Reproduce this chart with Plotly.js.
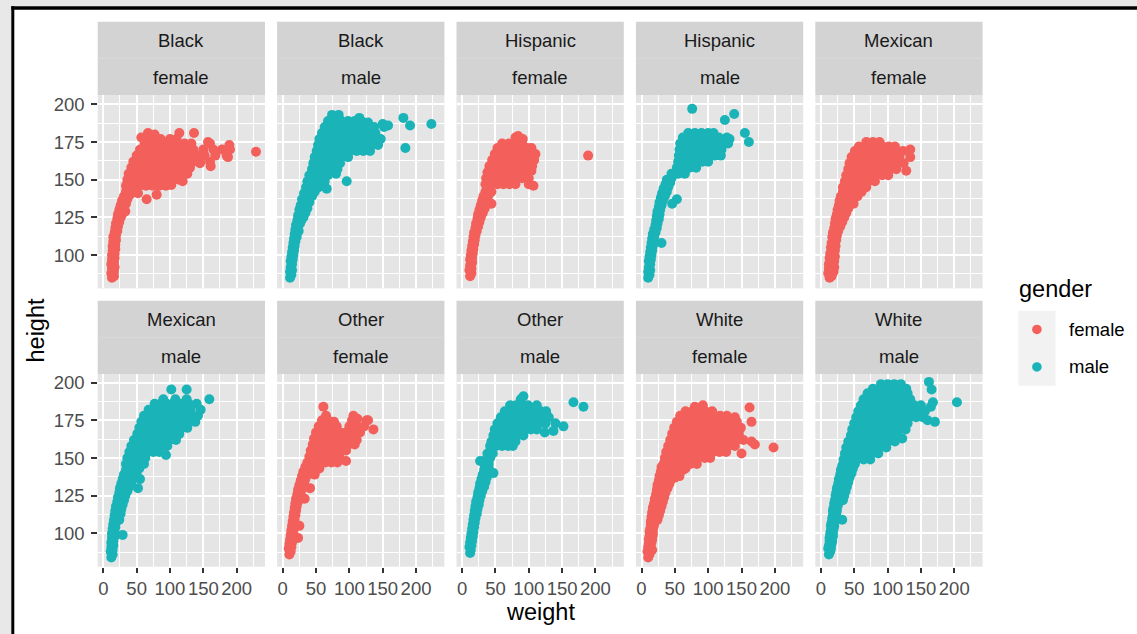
<!DOCTYPE html>
<html>
<head>
<meta charset="utf-8">
<script src="https://cdn.plot.ly/plotly-3.0.1.min.js"></script>
<style>
  html, body { margin: 0; padding: 0; background: #ffffff; }
  #chart { width: 1137px; height: 634px; }
</style>
</head>
<body>
<div id="chart"></div>
<script>
// Height (cm) against weight (kg), one panel per race / gender group.
// Each entry is [weight, height].
const blackFemale = [[13,85],[16,86],[12,88],[16,89],[13,91],[17,92],[12,94],[16,95],[13,97],[17,98],[13,100],[17,101],[14,103],[18,104],[14,106],[18,107],[15,109],[19,110],[15,112],[19,113],[17,115],[21,116],[18,118],[22,119],[19,121],[24,122],[21,124],[26,125],[22,127],[28,127],[33,129],[24,130],[30,131],[26,133],[34,134],[28,136],[36,137],[31,139],[40,140],[34,142],[44,143],[52,141],[65,137],[80,140],
  [34,146],[44,146],[54,146],[64,146],[74,146],[84,146],[94,146],
  [36,150],[46,150],[56,150],[66,150],[76,150],[86,150],[96,150],[106,150],[114,150],
  [38,154],[48,154],[58,154],[68,154],[78,154],[88,154],[98,154],[108,154],[118,154],[126,154],
  [42,158],[52,158],[62,158],[72,158],[82,158],[92,158],[102,158],[112,158],[122,158],[130,158],
  [45,162],[55,162],[65,162],[75,162],[85,162],[95,162],[105,162],[115,162],[125,162],[135,162],[145,162],[160,162],
  [50,166],[60,166],[70,166],[80,166],[90,166],[100,166],[110,166],[120,166],[130,166],[140,166],[152,166],[168,166],[185,166],
  [55,170],[65,170],[75,170],[85,170],[95,170],[105,170],[115,170],[125,170],[135,170],[150,170],[165,170],[178,170],[190,170],
  [62,174],[72,174],[82,174],[92,174],[102,174],[112,174],[122,174],[132,174],[160,174],
  [66,177],[76,177],[86,177],[100,177],[110,177],
  [57,178],[67,181],[77,180],[114,181],[136,181],[157,175],[189,173],[187,165],[229,168.5],[161,159],[145,161],[119,149],[102,146.5]];

const blackMale = [[11,85],[13,87],[11,89],[14,90],[12,92],[14,94],[12,96],[15,97],[13,99],[16,100],[14,102],[17,103],[15,105],[18,106],[16,108],[19,109],[17,111],[21,112],[18,114],[22,115],[24,116],[19,117],[23,118],[20,120],[26,121],[22,123],[28,123],[31,125],[23,126],[29,127],[34,128],[25,130],[31,130],[37,131],[27,133],[34,134],[40,135],[29,137],[36,138],[44,139],[32,141],[40,142],[48,142],[35,145],[44,145],[54,145],[60,146],[66,144],[63,149],[96,149],[80,154],
  [37,149],[46,149],[55,149],
  [40,153],[49,153],[58,153],[68,153],
  [44,157],[53,157],[62,157],[72,157],[82,157],
  [46,161],[56,161],[66,161],[76,161],[86,161],
  [48,165],[58,165],[68,165],[78,165],[88,165],[98,165],
  [51,169],[61,169],[71,169],[81,169],[91,169],[101,169],[111,169],[121,169],[131,169],
  [53,173],[63,173],[73,173],[83,173],[93,173],[103,173],[113,173],[123,173],[133,173],[143,173],
  [55,177],[65,177],[75,177],[85,177],[95,177],[105,177],[115,177],[125,177],[135,177],[147,177],
  [59,181],[69,181],[79,181],[89,181],[99,181],[109,181],[119,181],[129,181],[139,181],
  [63,185],[73,185],[83,185],[93,185],[103,185],[113,185],[123,185],[137,185],[152,185],
  [68,189],[78,189],[88,189],[98,189],[108,189],[118,189],
  [74,193],[84,193],
  [181,191],[191,186],[223,187],[184,171],[158,186],[150,187],[115,191],[128,188]];

const hispanicFemale = [[12,86],[14,88],[11,90],[14,91],[12,93],[15,95],[12,97],[15,98],[13,100],[16,101],[14,103],[17,104],[15,106],[18,107],[16,109],[19,110],[17,112],[20,113],[18,115],[22,116],[20,118],[24,119],[21,121],[26,122],[23,124],[28,125],[24,127],[31,128],[26,130],[34,131],[28,133],[36,134],[44,134],[30,136],[38,137],[32,139],[40,140],[35,142],[44,142],
  [35,147],[44,147],[53,147],[62,147],[71,147],[80,147],[100,147],[107,146],
  [36,151],[45,151],[54,151],[63,151],[72,151],[81,151],[90,151],[100,151],
  [38,155],[47,155],[56,155],[65,155],[74,155],[83,155],[92,155],[104,156],
  [41,159],[50,159],[59,159],[68,159],[77,159],[86,159],[96,159],[105,159],
  [45,163],[54,163],[63,163],[72,163],[81,163],[90,163],[99,163],[108,163],
  [49,167],[58,167],[67,167],[76,167],[85,167],[94,167],[103,167],[110,167],
  [53,171],[62,171],[71,171],[80,171],[89,171],[98,171],[104,171],
  [60,174],[70,174],[80,174],[90,174],
  [80,178],[84,179],[91,177],
  [189,166]];

const hispanicMale = [[10,85],[12,87],[10,89],[13,90],[11,92],[13,94],[11,96],[14,97],[12,99],[15,100],[13,102],[16,103],[14,105],[17,106],[15,108],[18,109],[30,108],[16,111],[19,112],[17,114],[21,115],[19,117],[23,118],[21,120],[24,121],[22,123],[26,124],[23,126],[27,127],[24,129],[28,130],[26,132],[30,133],[27,135],[32,136],[46,134],[53,137],[29,138],[35,139],[31,141],[38,142],[33,144],[40,145],[36,147],[43,148],[38,150],[45,151],
  [45,154],[55,154],[65,154],
  [53,158],[62,158],[72,158],[82,158],
  [55,162],[64,162],[73,162],[82,162],[91,162],[100,162],
  [56,166],[65,166],[74,166],[83,166],[92,166],[101,166],[110,166],[119,166],
  [57,170],[66,170],[75,170],[84,170],[93,170],[102,170],[111,170],[120,170],
  [58,174],[67,174],[76,174],[85,174],[94,174],[103,174],[112,174],[121,174],[130,174],
  [62,178],[71,178],[80,178],[89,178],[98,178],[107,178],[116,178],[128,178],
  [70,181],[80,181],[90,181],[100,181],[108,181],
  [76,197],[125,189.6],[139,193.6],[155,181],[161,175],[132,177]];

const mexicanFemale = [[13,85],[16,86],[11,88],[15,88],[19,89],[12,91],[16,92],[20,92],[12,94],[16,95],[20,96],[13,98],[17,99],[21,99],[14,101],[18,102],[21,103],[15,105],[19,106],[22,106],[16,108],[20,109],[23,110],[17,112],[21,112],[24,113],[18,115],[22,116],[26,116],[20,118],[24,119],[29,119],[21,121],[26,122],[32,122],[22,124],[28,125],[35,125],[24,127],[30,128],[38,128],[25,130],[32,131],[41,131],[27,133],[35,134],[44,134],[49,134],[28,136],[37,137],[46,137],[30,139],[40,140],[50,140],[55,139],[33,142],[43,143],[53,143],[61,142],
  [33,145],[42,145],[51,145],[60,145],[68,145],
  [36,149],[45,149],[54,149],[63,149],[72,149],[81,149],
  [38,153],[47,153],[56,153],[65,153],[74,153],[83,153],[92,153],[101,153],
  [41,157],[50,157],[59,157],[68,157],[77,157],[86,157],[95,157],[104,157],[113,157],[128,156],
  [43,161],[52,161],[61,161],[70,161],[79,161],[88,161],[97,161],[106,161],[115,161],[124,161],
  [46,165],[55,165],[64,165],[73,165],[82,165],[91,165],[100,165],[109,165],[118,165],[134,165],
  [51,169],[60,169],[69,169],[78,169],[87,169],[96,169],[105,169],[114,169],[123,169],[134,170],
  [57,172],[66,172],[75,172],[84,172],[93,172],[102,172],[111,172],
  [68,175],[78,175],[88,175]];

const mexicanMale = [[12,84],[14,86],[11,88],[14,89],[12,91],[15,92],[12,94],[15,95],[13,97],[17,98],[29,99],[13,100],[17,101],[14,103],[18,104],[15,106],[19,107],[16,109],[20,110],[24,109],[17,112],[21,113],[26,113],[18,115],[22,116],[27,116],[19,118],[24,119],[29,119],[21,121],[26,122],[31,122],[22,124],[28,125],[33,125],[24,127],[30,128],[36,128],[25,130],[32,131],[39,131],[52,130],[27,133],[34,134],[42,134],[29,136],[37,137],[46,137],[55,136],[31,139],[40,140],[50,140],[34,142],[44,143],[54,143],
  [34,146],[43,146],[52,146],[61,146],
  [36,150],[45,150],[54,150],[63,150],
  [39,154],[48,154],[57,154],[66,154],[75,154],[84,154],[94,152],
  [42,158],[51,158],[60,158],[69,158],[78,158],[87,158],[96,158],
  [46,162],[55,162],[64,162],[73,162],[82,162],[91,162],[100,162],[109,162],
  [51,166],[60,166],[69,166],[78,166],[87,166],[96,166],[105,166],[114,166],
  [54,170],[63,170],[72,170],[81,170],[90,170],[99,170],[108,170],[117,170],[126,170],
  [57,174],[66,174],[75,174],[84,174],[93,174],[102,174],[111,174],[120,174],[129,174],[138,174],
  [61,178],[70,178],[79,178],[88,178],[97,178],[106,178],[115,178],[124,178],[133,178],[142,178],
  [68,182],[77,182],[86,182],[95,182],[104,182],[113,182],[122,182],[131,182],[146,182],
  [77,186],[86,186],[95,186],[104,186],[116,186],[128,186],[140,186],
  [90,189],[108,189],[125,189],[159,189],
  [102,195.5],[125,195.5]];

const otherFemale = [[10,86],[12,88],[9,90],[13,91],[10,93],[14,94],[11,96],[15,97],[23,97],[12,99],[16,100],[13,102],[17,103],[14,105],[18,106],[25,105],[15,108],[18,109],[16,111],[19,112],[17,114],[20,115],[18,117],[21,118],[19,120],[23,121],[20,123],[25,124],[33,123],[22,126],[27,127],[23,129],[30,130],[41,130],[25,132],[32,133],[27,135],[34,136],[29,138],[37,139],[48,139],[31,141],[40,142],[34,144],[44,144],[55,143],
  [37,147],[46,147],[55,147],[64,147],[73,147],[82,147],[95,148],
  [40,151],[49,151],[58,151],[67,151],[76,151],[85,151],
  [42,155],[51,155],[60,155],[69,155],[78,155],[87,155],[95,155],
  [45,159],[54,159],[63,159],[72,159],[81,159],[90,159],[99,159],[108,159],
  [47,163],[56,163],[65,163],[74,163],[83,163],[92,163],[101,163],[111,162],
  [50,167],[59,167],[68,167],[77,167],[86,167],[95,167],[104,167],[116,167],
  [54,171],[63,171],[72,171],[81,171],[100,171],[110,171],[122,171],
  [59,175],[68,175],[77,174],[104,175],[112,176],[126,175],
  [65,178],[106,178],
  [61,184],[136,169],[128,175]];

const otherMale = [[12,87],[13,89],[11,91],[14,92],[12,94],[15,95],[13,97],[16,98],[14,100],[17,101],[15,103],[18,104],[16,106],[19,107],[17,109],[20,110],[18,112],[22,113],[19,115],[23,116],[20,118],[25,119],[21,121],[26,122],[23,124],[28,125],[24,127],[30,128],[26,130],[33,131],[27,133],[35,134],[29,136],[37,137],[47,140],[31,139],[39,140],[33,142],[40,143],[34,145],[40,146],[27,148],[36,149],[42,150],[38,153],[46,153],
  [42,158],[51,158],[60,158],[69,158],[76,158],
  [44,161],[53,161],[62,161],[71,161],[80,161],
  [47,165],[56,165],[65,165],[74,165],[83,165],[92,165],
  [49,169],[58,169],[67,169],[76,169],[85,169],[94,169],[103,169],[112,169],
  [53,173],[62,173],[71,173],[80,173],[89,173],[98,173],[107,173],[116,173],[125,173],[140,173],[152,171],
  [58,177],[67,177],[76,177],[85,177],[94,177],[103,177],[112,177],[121,177],[130,177],
  [64,181],[73,181],[82,181],[91,181],[100,181],[109,181],[118,181],[126,181],
  [72,185],[81,185],[90,185],[99,185],[112,185],
  [88,189],[92,191],
  [167,187],[182,184],[137,168],[124,167]];

const whiteFemale = [[10,84],[12,86],[9,88],[13,88],[16,89],[10,91],[14,91],[11,93],[15,94],[11,96],[16,96],[12,98],[17,99],[12,101],[17,101],[13,103],[18,104],[14,106],[19,106],[14,108],[19,109],[24,109],[15,111],[20,111],[26,112],[16,114],[21,114],[28,115],[17,117],[23,117],[30,118],[19,120],[25,120],[32,121],[20,123],[27,123],[34,124],[22,126],[29,126],[36,127],[23,129],[31,129],[39,130],[24,132],[33,132],[42,133],[26,135],[35,135],[45,136],[50,137],[27,138],[37,138],[47,139],[57,138],[29,141],[39,141],[50,142],[62,142],[30,144],[42,144],[54,144],[66,143],
  [33,146],[43,146],[53,146],[63,146],[73,146],[83,146],
  [35,150],[45,150],[55,150],[65,150],[75,150],[85,150],[95,150],[103,150],
  [37,154],[47,154],[57,154],[67,154],[77,154],[87,154],[97,154],[107,154],[117,154],[127,154],[150,153],
  [40,158],[50,158],[60,158],[70,158],[80,158],[90,158],[100,158],[110,158],[120,158],[130,158],[140,158],[170,159],[198,157],
  [43,162],[53,162],[63,162],[73,162],[83,162],[93,162],[103,162],[113,162],[123,162],[133,162],[143,162],[153,162],[165,161],
  [46,166],[56,166],[66,166],[76,166],[86,166],[96,166],[106,166],[116,166],[126,166],[136,166],[146,166],
  [49,170],[59,170],[69,170],[79,170],[89,170],[99,170],[109,170],[119,170],[129,170],[139,170],[149,170],
  [53,174],[63,174],[73,174],[83,174],[93,174],[103,174],[113,174],[123,174],[133,174],[143,174],[165,174],
  [58,178],[68,178],[78,178],[88,178],[98,178],[108,178],[118,178],[128,178],[140,177],
  [66,181],[76,181],[86,181],[96,181],[106,181],[162,183.5],
  [80,184],[92,185]];

const whiteMale = [[12,86],[14,88],[11,90],[15,90],[12,92],[16,93],[13,95],[17,95],[13,97],[18,98],[14,100],[18,100],[15,102],[19,103],[15,105],[20,105],[16,107],[21,108],[32,109],[17,110],[22,110],[18,112],[23,113],[18,115],[24,115],[19,117],[25,118],[20,120],[26,120],[21,122],[27,123],[33,122],[22,125],[28,125],[35,125],[23,127],[30,128],[37,128],[24,130],[31,130],[39,131],[26,133],[33,133],[41,134],[27,136],[35,136],[43,137],[29,139],[37,139],[46,140],[30,142],[39,142],[48,143],[32,145],[41,145],[51,146],
  [34,149],[44,149],[54,149],[64,149],[74,149],
  [36,153],[46,153],[56,153],[66,153],[76,153],[86,153],
  [38,157],[48,157],[58,157],[68,157],[78,157],[88,157],[98,157],
  [41,161],[51,161],[61,161],[71,161],[81,161],[91,161],[101,161],[111,161],
  [45,165],[55,165],[65,165],[75,165],[85,165],[95,165],[105,165],[115,165],[122,163],
  [47,169],[57,169],[67,169],[77,169],[87,169],[97,169],[107,169],[117,169],[127,169],
  [50,173],[60,173],[70,173],[80,173],[90,173],[100,173],[110,173],[120,173],[130,173],
  [53,177],[63,177],[73,177],[83,177],[93,177],[103,177],[113,177],[123,177],[133,177],[143,177],[153,177],[160,175],[171,174],
  [56,181],[66,181],[76,181],[86,181],[96,181],[106,181],[116,181],[126,181],[136,181],[146,181],[156,181],
  [60,185],[70,185],[80,185],[90,185],[100,185],[110,185],[120,185],[130,185],[140,185],[150,185],[165,184],
  [64,189],[74,189],[84,189],[94,189],[104,189],[114,189],[124,189],[134,189],[168,187],[204,187],
  [70,193],[80,193],[90,193],[100,193],[110,193],[120,193],[130,193],
  [78,196],[88,196],[98,196],[108,196],[118,196],[128,196],[166,195.5],
  [90,199],[100,199],[110,199],[120,199],[162,200.5]];

const races   = ['Black', 'Black', 'Hispanic', 'Hispanic', 'Mexican', 'Mexican', 'Other', 'Other', 'White', 'White'];
const genders = ['female', 'male', 'female', 'male', 'female', 'male', 'female', 'male', 'female', 'male'];
const groups  = [blackFemale, blackMale, hispanicFemale, hispanicMale, mexicanFemale, mexicanMale, otherFemale, otherMale, whiteFemale, whiteMale];
const xTicks = [0, 50, 100, 150, 200];
const yTicks = [100, 125, 150, 175, 200];
const xMinor = [25, 75, 125, 175, 225];
const yMinor = [87.5, 112.5, 137.5, 162.5, 187.5];
const legendTitle = 'gender';
const legendLabels = ['female', 'male'];

// ---- page geometry (pixels) ----
const W = 1137, H = 634;
const fx = p => p / W;
const fy = p => 1 - p / H;
const colLeft = [97.7, 277.1, 456.5, 635.9, 815.3];
const colW = 167.3;
const rowTop = [95, 373.3];
const rowH = 193.4;
const stripTop = [21.7, 300.7];
const stripH = 36.65;

const FONT = 'Liberation Sans, Arial, Helvetica, sans-serif';
const colors = { female: '#F3605B', male: '#1AB4B8' };
const tickFont = { family: FONT, size: 18.5, color: '#4D4D4D' };

const traces = [];
const layout = {
  width: W, height: H,
  margin: { l: 0, r: 0, t: 0, b: 0, pad: 0 },
  paper_bgcolor: '#ffffff',
  plot_bgcolor: '#E5E5E5',
  showlegend: false,
  shapes: [],
  annotations: []
};

groups.forEach((pts, i) => {
  const r = Math.floor(i / 5), c = i % 5, n = i + 1;
  const sfx = n > 1 ? String(n) : '';
  layout['xaxis' + sfx] = {
    domain: [fx(colLeft[c]), fx(colLeft[c] + colW)],
    range: [-8.4, 242.5],
    anchor: 'y' + sfx,
    tickmode: 'array', tickvals: xTicks, ticktext: xTicks.map(String),
    showticklabels: r === 1,
    ticks: r === 1 ? 'outside' : '',
    ticklen: 5.5, tickwidth: 2, tickcolor: '#333333',
    tickfont: tickFont,
    showgrid: true, gridcolor: '#ffffff', gridwidth: 2,
    minor: { tickmode: 'array', tickvals: xMinor, showgrid: true, gridcolor: '#ffffff', gridwidth: 1 },
    zeroline: false, showline: false, fixedrange: true
  };
  layout['yaxis' + sfx] = {
    domain: [fy(rowTop[r] + rowH), fy(rowTop[r])],
    range: [77.9, 206.2],
    anchor: 'x' + sfx,
    tickmode: 'array', tickvals: yTicks, ticktext: yTicks.map(String),
    showticklabels: c === 0,
    ticks: c === 0 ? 'outside' : '',
    ticklen: 5.5, tickwidth: 2, tickcolor: '#333333',
    ticklabelstandoff: 3,
    tickfont: tickFont,
    showgrid: true, gridcolor: '#ffffff', gridwidth: 2,
    minor: { tickmode: 'array', tickvals: yMinor, showgrid: true, gridcolor: '#ffffff', gridwidth: 1 },
    zeroline: false, showline: false, fixedrange: true
  };
  traces.push({
    type: 'scatter', mode: 'markers',
    x: pts.map(d => d[0]), y: pts.map(d => d[1]),
    xaxis: 'x' + sfx, yaxis: 'y' + sfx,
    marker: { color: colors[genders[i]], size: 10, line: { width: 0 } },
    hoverinfo: 'skip', showlegend: false
  });

  // two stacked facet strips
  const x0 = fx(colLeft[c]), x1 = fx(colLeft[c] + colW);
  const s0 = stripTop[r];
  layout.shapes.push({ type: 'rect', xref: 'paper', yref: 'paper', x0: x0, x1: x1,
    y0: fy(s0 + 2 * stripH), y1: fy(s0), fillcolor: '#D3D3D3', line: { width: 0 } });
  layout.shapes.push({ type: 'line', xref: 'paper', yref: 'paper', x0: x0, x1: x1,
    y0: fy(s0 + stripH), y1: fy(s0 + stripH), line: { color: '#DADADA', width: 1 } });
  const xc = fx(colLeft[c] + colW / 2);
  layout.annotations.push({ xref: 'paper', yref: 'paper', x: xc, y: fy(s0 + stripH / 2 + 0.8),
    text: races[i], showarrow: false, xanchor: 'center', yanchor: 'middle',
    font: { family: FONT, size: 18.5, color: '#1A1A1A' } });
  layout.annotations.push({ xref: 'paper', yref: 'paper', x: xc, y: fy(s0 + stripH * 1.5 + 0.8),
    text: genders[i], showarrow: false, xanchor: 'center', yanchor: 'middle',
    font: { family: FONT, size: 18.5, color: '#1A1A1A' } });
});

// outer frame: grey band with a black rule along the top and left
layout.shapes.push(
  { type: 'rect', xref: 'paper', yref: 'paper', x0: 0, x1: 1, y0: fy(6.3), y1: 1, fillcolor: '#E8E8E8', line: { width: 0 } },
  { type: 'rect', xref: 'paper', yref: 'paper', x0: 0, x1: fx(11.3), y0: 0, y1: 1, fillcolor: '#E8E8E8', line: { width: 0 } },
  { type: 'rect', xref: 'paper', yref: 'paper', x0: fx(11.3), x1: 1, y0: fy(9.7), y1: fy(6.3), fillcolor: '#000000', line: { width: 0 } },
  { type: 'rect', xref: 'paper', yref: 'paper', x0: fx(11.3), x1: fx(14.3), y0: 0, y1: fy(6.3), fillcolor: '#000000', line: { width: 0 } }
);

// axis titles
layout.annotations.push(
  { xref: 'paper', yref: 'paper', x: fx(540.2), y: fy(612), text: 'weight', showarrow: false,
    xanchor: 'center', yanchor: 'middle', font: { family: FONT, size: 23.5, color: '#000000' } },
  { xref: 'paper', yref: 'paper', x: fx(35.5), y: fy(331), text: 'height', showarrow: false, textangle: -90,
    xanchor: 'center', yanchor: 'middle', font: { family: FONT, size: 23.5, color: '#000000' } }
);

// legend drawn by hand
const keyTop = [310.7, 348.2];
layout.annotations.push({ xref: 'paper', yref: 'paper', x: fx(1016.5), y: fy(289), text: legendTitle, showarrow: false,
  xanchor: 'left', yanchor: 'middle', font: { family: FONT, size: 23.5, color: '#000000' } });
legendLabels.forEach((lab, k) => {
  const cy = keyTop[k] + 18.75;
  layout.shapes.push({ type: 'rect', xref: 'paper', yref: 'paper', x0: fx(1018.3), x1: fx(1055.5),
    y0: fy(keyTop[k] + 37.5), y1: fy(keyTop[k]), fillcolor: '#F2F2F2', line: { width: 0 } });
  layout.shapes.push({ type: 'circle', xref: 'paper', yref: 'paper', x0: fx(1036.9 - 4.8), x1: fx(1036.9 + 4.8),
    y0: fy(cy + 4.8), y1: fy(cy - 4.8), fillcolor: colors[lab], line: { width: 0 } });
  layout.annotations.push({ xref: 'paper', yref: 'paper', x: fx(1067), y: fy(cy), text: lab, showarrow: false,
    xanchor: 'left', yanchor: 'middle', font: { family: FONT, size: 18.5, color: '#000000' } });
});

Plotly.newPlot('chart', traces, layout, { staticPlot: true, displayModeBar: false });
</script>
</body>
</html>
